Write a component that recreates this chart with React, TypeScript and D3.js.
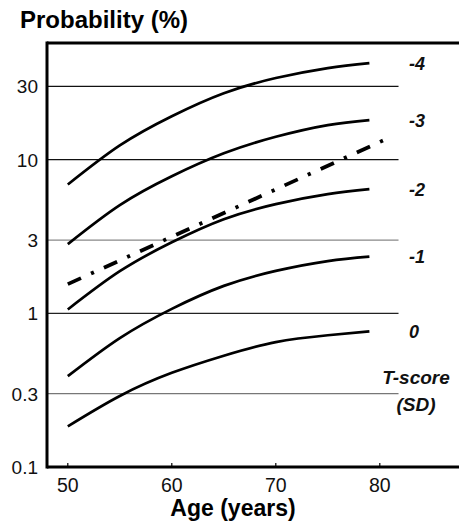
import React from "react";
import * as d3 from "d3";

const ages = [50, 55, 60, 65, 70, 75, 79];
const tScores = ["-4", "-3", "-2", "-1", "0"];
const seriesM4 = [6.9, 12.4, 19.2, 27.1, 34.0, 39.5, 42.5];
const seriesM3 = [2.82, 5.06, 7.8, 11.0, 14.1, 16.8, 18.1];
const seriesM2 = [1.06, 1.88, 2.9, 4.1, 5.14, 5.97, 6.43];
const seriesM1 = [0.39, 0.69, 1.07, 1.51, 1.89, 2.19, 2.34];
const series0 = [0.184, 0.29, 0.41, 0.53, 0.65, 0.72, 0.763];
const dashAges = [50, 81];
const dashValues = [1.55, 14.0];
const yTicks = [0.1, 0.3, 1, 3, 10, 30];
const yTickLabels = ["0.1", "0.3", "1", "3", "10", "30"];
const xTicks = [50, 60, 70, 80];
const gridColors = ["#000", "#777", "#222", "#888", "#111", "#111"];

const FONT = "'Liberation Sans', Arial, Helvetica, sans-serif";

export default function App() {
  const W = 459;
  const H = 523;
  const x = d3.scaleLinear().domain([48, 88]).range([47, 463]);
  const y = d3.scaleLog().domain([0.1, 57.5]).range([467, 43]);
  const line = d3
    .line<[number, number]>()
    .x((d) => x(d[0]))
    .y((d) => y(d[1]))
    .curve(d3.curveNatural);
  const allSeries = [seriesM4, seriesM3, seriesM2, seriesM1, series0];
  const gridRight = x(81.8);

  return (
    <svg
      width={W}
      height={H}
      style={{ position: "absolute", left: 0, top: 0, background: "#fff" }}
      fontFamily={FONT}
    >
      <rect x={0} y={0} width={W} height={H} fill="#fff" />
      {yTicks.slice(1).map((t, i) => (
        <line
          key={"g" + t}
          x1={x(48)}
          x2={gridRight}
          y1={y(t)}
          y2={y(t)}
          stroke={gridColors[i + 1]}
          strokeWidth={1.2}
        />
      ))}
      {yTicks.map((t, i) => (
        <text
          key={"yl" + t}
          x={38}
          y={y(t)}
          dy="0.36em"
          textAnchor="end"
          fontSize={19}
          fill="#111"
        >
          {yTickLabels[i]}
        </text>
      ))}
      {xTicks.map((t) => (
        <g key={"xt" + t}>
          <line x1={x(t)} x2={x(t)} y1={467} y2={463} stroke="#000" strokeWidth={1.2} />
          <text x={x(t)} y={492} textAnchor="middle" fontSize={19.5} fill="#111">
            {t}
          </text>
        </g>
      ))}
      <line x1={47} x2={470} y1={43} y2={43} stroke="#000" strokeWidth={3} />
      <line x1={47} x2={470} y1={467} y2={467} stroke="#000" strokeWidth={3} />
      <line x1={47} x2={47} y1={41.5} y2={468.5} stroke="#000" strokeWidth={3} />
      {allSeries.map((s, i) => (
        <path
          key={"c" + i}
          d={line(ages.map((a, j) => [a, s[j]] as [number, number])) || ""}
          fill="none"
          stroke="#000"
          strokeWidth={2.7}
        />
      ))}
      <path
        d={line(dashAges.map((a, j) => [a, dashValues[j]] as [number, number])) || ""}
        fill="none"
        stroke="#000"
        strokeWidth={3.8}
        strokeDasharray="14.5 11 3.2 11"
      />
      {allSeries.map((s, i) => (
        <text
          key={"l" + i}
          x={409}
          y={y(s[s.length - 1])}
          dy="0.36em"
          fontSize={18}
          fontWeight="bold"
          fontStyle="italic"
          fill="#111"
        >
          {tScores[i]}
        </text>
      ))}
      <text x={416} y={384} textAnchor="middle" fontSize={19} fontWeight="bold" fontStyle="italic" fill="#111">
        T-score
      </text>
      <text x={416} y={411} textAnchor="middle" fontSize={19} fontWeight="bold" fontStyle="italic" fill="#111">
        (SD)
      </text>
      <text x={20} y={28} fontSize={24} fontWeight="bold" fill="#000">
        Probability (%)
      </text>
      <text x={233} y={516} textAnchor="middle" fontSize={23} fontWeight="bold" fill="#000">
        Age (years)
      </text>
    </svg>
  );
}
